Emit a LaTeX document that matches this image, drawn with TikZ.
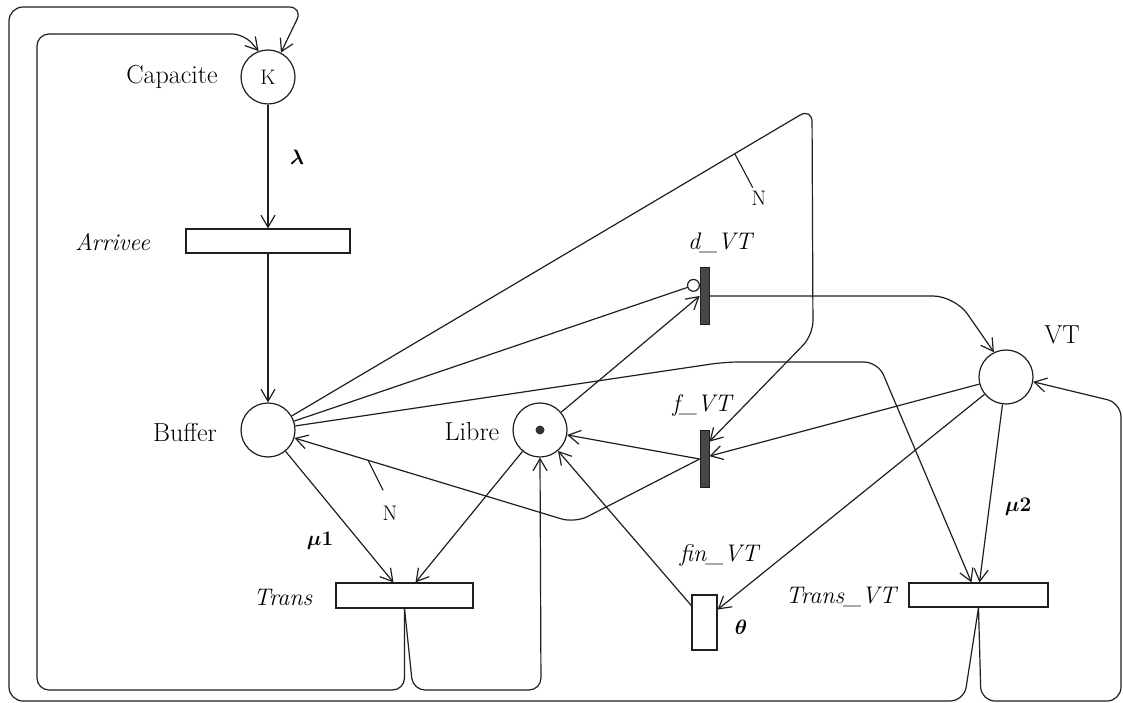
\documentclass[tikz,border=0pt]{standalone}
\usepackage{bm}
\usetikzlibrary{arrows.meta,calc}
\begin{document}
\begin{tikzpicture}[x=1pt,y=-1pt,
  font=\fontsize{26}{30}\selectfont,
  arc/.style={line width=1.2pt, draw=black!88, rounded corners=12pt,
    -{Straight Barb[length=12pt,width=14pt]}},
  inhib/.style={line width=1.2pt, draw=black!88,
    -{Circle[open,length=13pt,width=13pt]}},
  tick/.style={line width=1.1pt, draw=black!88},
  pl/.style={circle, draw=black!88, line width=1.2pt, minimum size=54pt, inner sep=0pt},
  tbox/.style={rectangle, draw=black!88, fill=white, line width=1.2pt, inner sep=0pt},
  ibar/.style={rectangle, draw=black!88, fill=black!72, line width=0.8pt,
    minimum width=9pt, minimum height=57pt, inner sep=0pt},
  lbl/.style={inner sep=0pt},
  itl/.style={inner sep=0pt, font=\fontsize{24}{28}\selectfont\itshape},
  bld/.style={inner sep=0pt, font=\fontsize{21}{25}\selectfont},
  small/.style={inner sep=0pt, font=\fontsize{21}{24}\selectfont}]

\useasboundingbox (0,0) rectangle (1123,703);
\fill[white] (0,0) rectangle (1123,703);

% places
\node[pl] (capacite) at (268,77) {};
\node[small] (k) at (capacite) {K};
\node[pl] (buffer) at (268,430) {};
\node[pl] (libre) at (540,430) {};
\node[circle, fill=black!80, minimum size=9pt, inner sep=0pt] (token) at (libre) {};
\node[pl] (vt) at (1006,377) {};

% timed transitions
\node[tbox, minimum width=164pt, minimum height=24pt] (arrivee) at (268,241) {};
\node[tbox, minimum width=137pt, minimum height=25pt] (trans) at (404.5,595.5) {};
\node[tbox, minimum width=139pt, minimum height=24pt] (transvt) at (978.5,595) {};
\node[tbox, minimum width=25pt, minimum height=55pt] (finvt) at (704.5,622.5) {};

% immediate transitions
\node[ibar] (dvt) at (704.5,296) {};
\node[ibar] (fvt) at (704.5,459) {};

% labels
\node[lbl] (lcap) at (172,77) {Capacite};
\node[bld] (llam) at (297,157) {$\bm{\lambda}$};
\node[itl, anchor=east] (larr) at (150,242) {Arrivee};
\node[lbl] (lbuf) at (185,432) {Buffer};
\node[lbl] (llib) at (472,432) {Libre};
\node[itl] (ldvt) at (720,243) {d\_VT};
\node[itl] (lfvt) at (702,405) {f\_VT};
\node[lbl] (lvt) at (1062,335) {VT};
\node[itl] (lfin) at (719,555) {fin\_VT};
\node[bld] (ltheta) at (741,627) {$\bm{\theta}$};
\node[itl] (ltrans) at (283,597) {Trans};
\node[itl, anchor=east] (ltvt) at (896,597) {Trans\_VT};
\node[bld] (lmu1) at (320,541) {$\bm{\mu 1}$};
\node[bld] (lmu2) at (1018,507) {$\bm{\mu 2}$};

% bend points
\coordinate (apexN) at (812,108);
\coordinate (kneeN) at (813,335);
\coordinate (kneeB) at (575,523);

% arrival chain
\draw[arc] (capacite) -- (arrivee);
\draw[arc] (arrivee) -- (buffer);

% service by Trans
\draw[arc] (buffer) -- ($(trans.north)+(-11,0)$);
\draw[arc] (libre) -- ($(trans.north)+(11,0)$);
\draw[arc] (trans.south) -- (404.5,690) -- (37,690) -- (37,34) -- (244,34) -- (capacite.110);
\draw[arc] (trans.south) -- (413,690) -- (541,690) -- (libre.south);

% vacation start / end
\draw[inhib] (buffer) -- ($(dvt.north west)!0.28!(dvt.south west)$);
\draw[arc] (libre) -- (dvt.west);
\draw[arc, rounded corners=22pt] (dvt.east) -- (955,296) -- (vt.116);
\draw[arc, rounded corners=14pt] (buffer) -- (apexN) -- (kneeN) -- ($(fvt.north east)!0.2!(fvt.south east)$);
\draw[arc] (vt) -- ($(fvt.north east)!0.45!(fvt.south east)$);
\draw[arc] (fvt.west) -- (libre);
\draw[arc, rounded corners=14pt] (fvt.west) -- (kneeB) -- (buffer);
\draw[arc] (vt) -- ($(finvt.north east)!0.27!(finvt.south east)$);
\draw[arc] ($(finvt.north west)!0.2!(finvt.south west)$) -- (libre);

% service by Trans_VT
\draw[arc, rounded corners=14pt] (buffer) -- (725,362) -- (878,362) -- ($(transvt.north)+(-7,0)$);
\draw[arc] (vt) -- ($(transvt.north)+(1,0)$);
\draw[arc, rounded corners=14pt] (transvt.south) -- (964,701) -- (9,701) -- (9,7) -- (303,7) -- (capacite.62);
\draw[arc, rounded corners=14pt] (transvt.south) -- (981,701) -- (1121,701) -- (1121,403) -- (vt.-10);

% weight ticks
\coordinate (t1) at ($(buffer)!0.858!(apexN)$);
\draw[tick] (t1) -- ++(18,34);
\node[small] (n1) at (759,198) {N};
\coordinate (t2) at ($(buffer)!0.326!(kneeB)$);
\draw[tick] (t2) -- ++(15,30);
\node[small] (n2) at (390,513) {N};

\end{tikzpicture}
\end{document}
